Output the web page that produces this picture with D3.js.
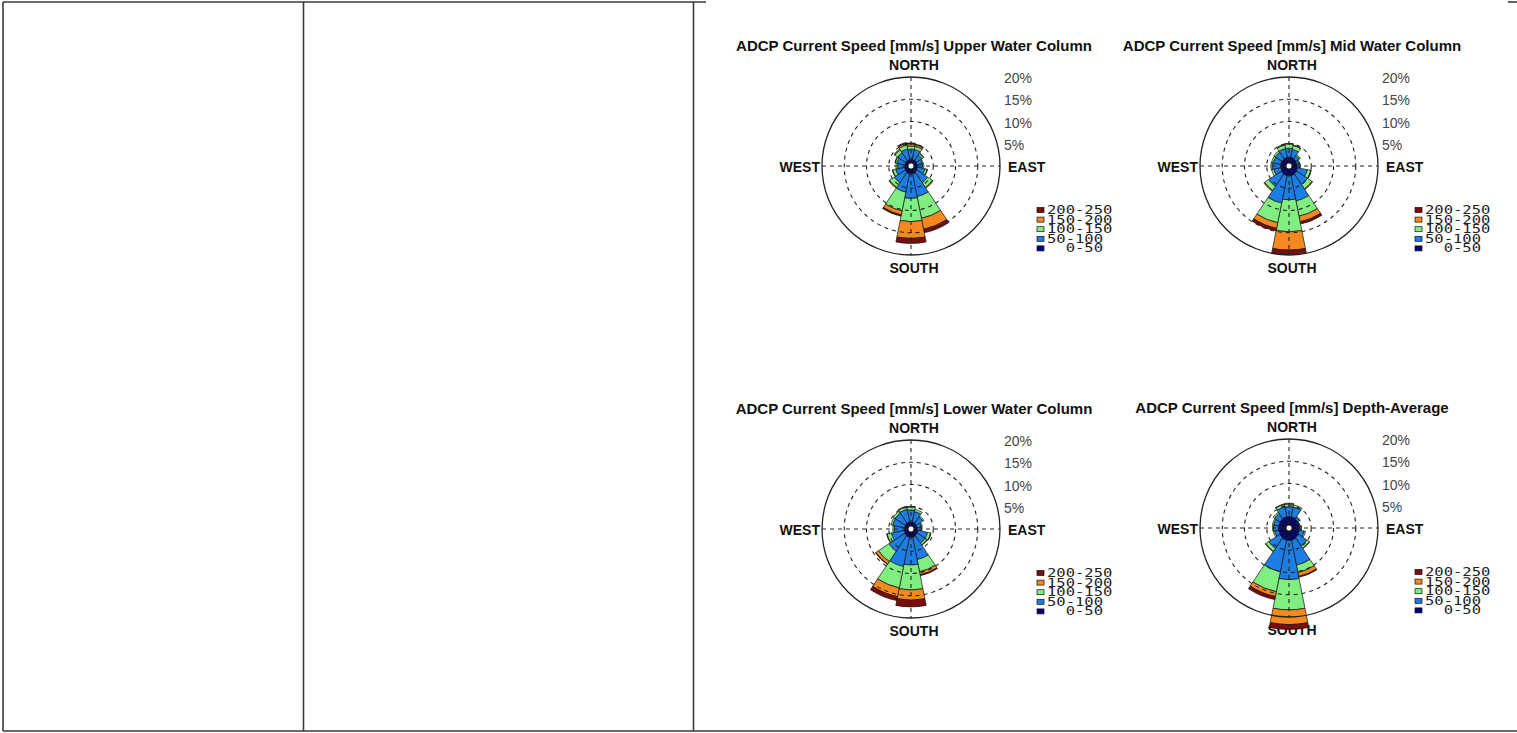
<!DOCTYPE html>
<html>
<head>
<meta charset="utf-8">
<script src="https://cdn.jsdelivr.net/npm/d3@7"></script>
<style>
  body { margin: 0; background: #fff; }
  svg { display: block; }
  .lbl { font-family: "Liberation Sans", Arial, sans-serif; font-weight: bold; font-size: 14px; fill: #111; }
  .ttl { font-family: "Liberation Sans", Arial, sans-serif; font-weight: bold; font-size: 15px; fill: #111; }
  .pct { font-family: "Liberation Sans", Arial, sans-serif; font-size: 14px; fill: #444; }
  .leg { font-family: "DejaVu Sans Mono", monospace; font-size: 11.5px; fill: #222; white-space: pre; }
</style>
</head>
<body>
<div id="chart"></div>
<script>
// 16 compass sectors, speed bins and % rings
const directions = ['N', 'NNE', 'NE', 'ENE', 'E', 'ESE', 'SE', 'SSE', 'S', 'SSW', 'SW', 'WSW', 'W', 'WNW', 'NW', 'NNW'];
const speedBins = ['0-50', '50-100', '100-150', '150-200', '200-250'];
const legendLabels = ['200-250', '150-200', '100-150', '50-100', '  0-50'];
const ringTicks = [5, 10, 15, 20];

// frequency (%) per direction, one column per speed bin (0-50 ... 200-250)
const upperWater = [
    [1.5, 2.3, 0.7, 0.5, 0.2], [1.5, 2.3, 0.7, 0.4, 0.1], [1.5, 1.5, 0.4, 0.1, 0], [1.4, 1.2, 0.2, 0, 0],
    [1.4, 1.2, 0.3, 0, 0], [1.5, 1.7, 0.5, 0.1, 0], [1.6, 2.9, 1.3, 0.2, 0], [1.8, 5.2, 5.0, 2.5, 0.8],
    [1.8, 5.5, 5.2, 3.8, 1.1], [1.8, 4.2, 4.3, 0.9, 0.3], [1.6, 2.9, 1.3, 0.2, 0], [1.5, 2.0, 0.7, 0.1, 0],
    [1.4, 1.6, 0.4, 0, 0], [1.4, 1.8, 0.4, 0.1, 0], [1.5, 2.1, 0.8, 0.2, 0], [1.5, 2.4, 0.9, 0.4, 0.2]
];
const midWater = [
    [2.0, 2.0, 1.0, 0.1, 0], [2.0, 1.8, 0.9, 0.1, 0], [1.9, 0.9, 0.3, 0, 0], [1.8, 0.5, 0.2, 0, 0],
    [1.8, 0.6, 0.2, 0, 0], [2.0, 2.2, 0.8, 0.1, 0], [2.1, 2.9, 1.2, 0.2, 0], [2.2, 5.8, 3.5, 1.3, 0.5],
    [2.2, 5.4, 7.2, 4.1, 1.0], [2.2, 6.3, 4.5, 1.3, 0.6], [2.1, 3.4, 1.1, 0.2, 0], [1.9, 1.6, 0.5, 0, 0],
    [1.9, 1.9, 0.3, 0, 0], [1.9, 1.7, 0.4, 0, 0], [1.9, 1.8, 0.4, 0, 0], [2.0, 2.0, 0.8, 0.2, 0]
];
const lowerWater = [
    [1.6, 2.7, 0.7, 0.1, 0], [1.6, 2.4, 0.5, 0, 0], [1.5, 1.7, 0.3, 0, 0], [1.4, 1.0, 0.2, 0, 0],
    [1.4, 0.9, 0.2, 0, 0], [1.6, 2.2, 0.7, 0.1, 0], [1.7, 2.1, 0.5, 0.1, 0], [1.9, 5.1, 2.8, 0.7, 0.2],
    [1.9, 6.2, 5.6, 2.3, 1.5], [1.9, 6.7, 4.9, 2.0, 0.9], [1.8, 4.2, 2.8, 0.7, 0.1], [1.6, 2.9, 1.0, 0.1, 0],
    [1.5, 2.3, 0.3, 0, 0], [1.5, 2.7, 0.4, 0, 0], [1.6, 2.7, 0.5, 0, 0], [1.6, 2.9, 0.6, 0.1, 0]
];
const depthAverage = [
    [2.6, 2.2, 0.6, 0.2, 0], [2.6, 2.2, 0.5, 0, 0], [2.4, 0.5, 0.2, 0, 0], [2.3, 0.1, 0.1, 0, 0],
    [2.3, 0.4, 0.1, 0, 0], [2.4, 1.1, 0.3, 0, 0], [2.6, 2.2, 0.7, 0.1, 0], [2.8, 5.7, 1.7, 0.9, 0.2],
    [2.8, 8.8, 6.8, 3.3, 1.1], [2.8, 7.2, 4.6, 1.1, 0.7], [2.6, 2.9, 0.8, 0.1, 0], [2.4, 0.9, 0.3, 0, 0],
    [2.4, 1.1, 0.2, 0, 0], [2.4, 1.1, 0.3, 0, 0], [2.5, 1.4, 0.4, 0, 0], [2.6, 2.2, 0.6, 0.1, 0]
];

const binColors = ['#00007a', '#1c7de4', '#80ee80', '#f5881f', '#7a0c0c'];

const panels = [
    { title: 'ADCP Current Speed [mm/s] Upper Water Column', data: upperWater, cx: 911, cy: 166 },
    { title: 'ADCP Current Speed [mm/s] Mid Water Column', data: midWater, cx: 1289, cy: 166 },
    { title: 'ADCP Current Speed [mm/s] Lower Water Column', data: lowerWater, cx: 911, cy: 529 },
    { title: 'ADCP Current Speed [mm/s] Depth-Average', data: depthAverage, cx: 1289, cy: 528 }
];

const width = 1517, height = 733;
const svg = d3.select('#chart').append('svg')
    .attr('width', width)
    .attr('height', height);

// table frame behind the figure
const frame = svg.append('g').attr('stroke', '#3a3a3a').attr('stroke-width', 1.6);
frame.append('line').attr('x1', 3).attr('y1', 2).attr('x2', 706).attr('y2', 2);
frame.append('line').attr('x1', 1508).attr('y1', 2).attr('x2', 1517).attr('y2', 2);
frame.append('line').attr('x1', 3).attr('y1', 731).attr('x2', 1517).attr('y2', 731);
[3, 303.5, 693.5].forEach(x => {
    frame.append('line').attr('x1', x).attr('y1', 2).attr('x2', x).attr('y2', 731);
});

const rScale = d3.scaleLinear().domain([0, 20]).range([0, 89]);
const aScale = d3.scaleBand().domain(directions).range([-Math.PI / 16, 2 * Math.PI - Math.PI / 16]);
const arc = d3.arc();

panels.forEach(p => {
    const g = svg.append('g').attr('transform', `translate(${p.cx},${p.cy})`);

    g.append('text').attr('class', 'ttl').attr('x', 3).attr('y', -115)
        .attr('text-anchor', 'middle').text(p.title);
    g.append('text').attr('class', 'lbl').attr('x', 3).attr('y', -96)
        .attr('text-anchor', 'middle').text('NORTH');
    g.append('text').attr('class', 'lbl').attr('x', 3).attr('y', 107)
        .attr('text-anchor', 'middle').text('SOUTH');
    g.append('text').attr('class', 'lbl').attr('x', -91).attr('y', 5.5)
        .attr('text-anchor', 'end').text('WEST');
    g.append('text').attr('class', 'lbl').attr('x', 97).attr('y', 5.5)
        .text('EAST');

    // stacked sectors
    const bars = g.append('g');
    p.data.forEach((row, i) => {
        const a0 = aScale(directions[i]);
        const a1 = a0 + aScale.bandwidth();
        const cum = [0, ...d3.cumsum(row)];
        row.forEach((v, k) => {
            if (v <= 0) return;
            bars.append('path')
                .attr('d', arc({
                    innerRadius: rScale(cum[k]),
                    outerRadius: rScale(cum[k + 1]),
                    startAngle: a0,
                    endAngle: a1
                }))
                .attr('fill', binColors[k])
                .attr('stroke', '#111')
                .attr('stroke-width', 0.7);
        });
    });

    // grid on top of the bars
    const grid = g.append('g').attr('fill', 'none').attr('stroke', '#222');
    ringTicks.forEach(t => {
        grid.append('circle').attr('r', rScale(t))
            .attr('stroke-width', t === 20 ? 1.3 : 1.1)
            .attr('stroke-dasharray', t === 20 ? null : '4,4');
    });
    const R = rScale(20);
    grid.append('line').attr('x1', -R).attr('x2', R).attr('y1', 0).attr('y2', 0)
        .attr('stroke-width', 1.1).attr('stroke-dasharray', '4,4');
    grid.append('line').attr('y1', -R).attr('y2', R).attr('x1', 0).attr('x2', 0)
        .attr('stroke-width', 1.1).attr('stroke-dasharray', '4,4');
    g.append('circle').attr('r', 3).attr('fill', '#fff').attr('stroke', '#111').attr('stroke-width', 0.8);

    ringTicks.forEach(t => {
        g.append('text').attr('class', 'pct').attr('x', 93).attr('y', -rScale(t) + 6).text(t + '%');
    });

    // legend
    const leg = g.append('g').attr('transform', 'translate(126,44)');
    legendLabels.forEach((lab, j) => {
        const k = speedBins.length - 1 - j;
        leg.append('rect').attr('x', 0).attr('y', j * 9.6 - 2.5).attr('width', 7).attr('height', 5)
            .attr('fill', binColors[k]).attr('stroke', '#111').attr('stroke-width', 0.7);
        leg.append('text').attr('class', 'leg')
            .attr('transform', `translate(10,${j * 9.6 + 4}) scale(1.35,1)`)
            .attr('xml:space', 'preserve').text(lab);
    });
});
</script>
</body>
</html>
